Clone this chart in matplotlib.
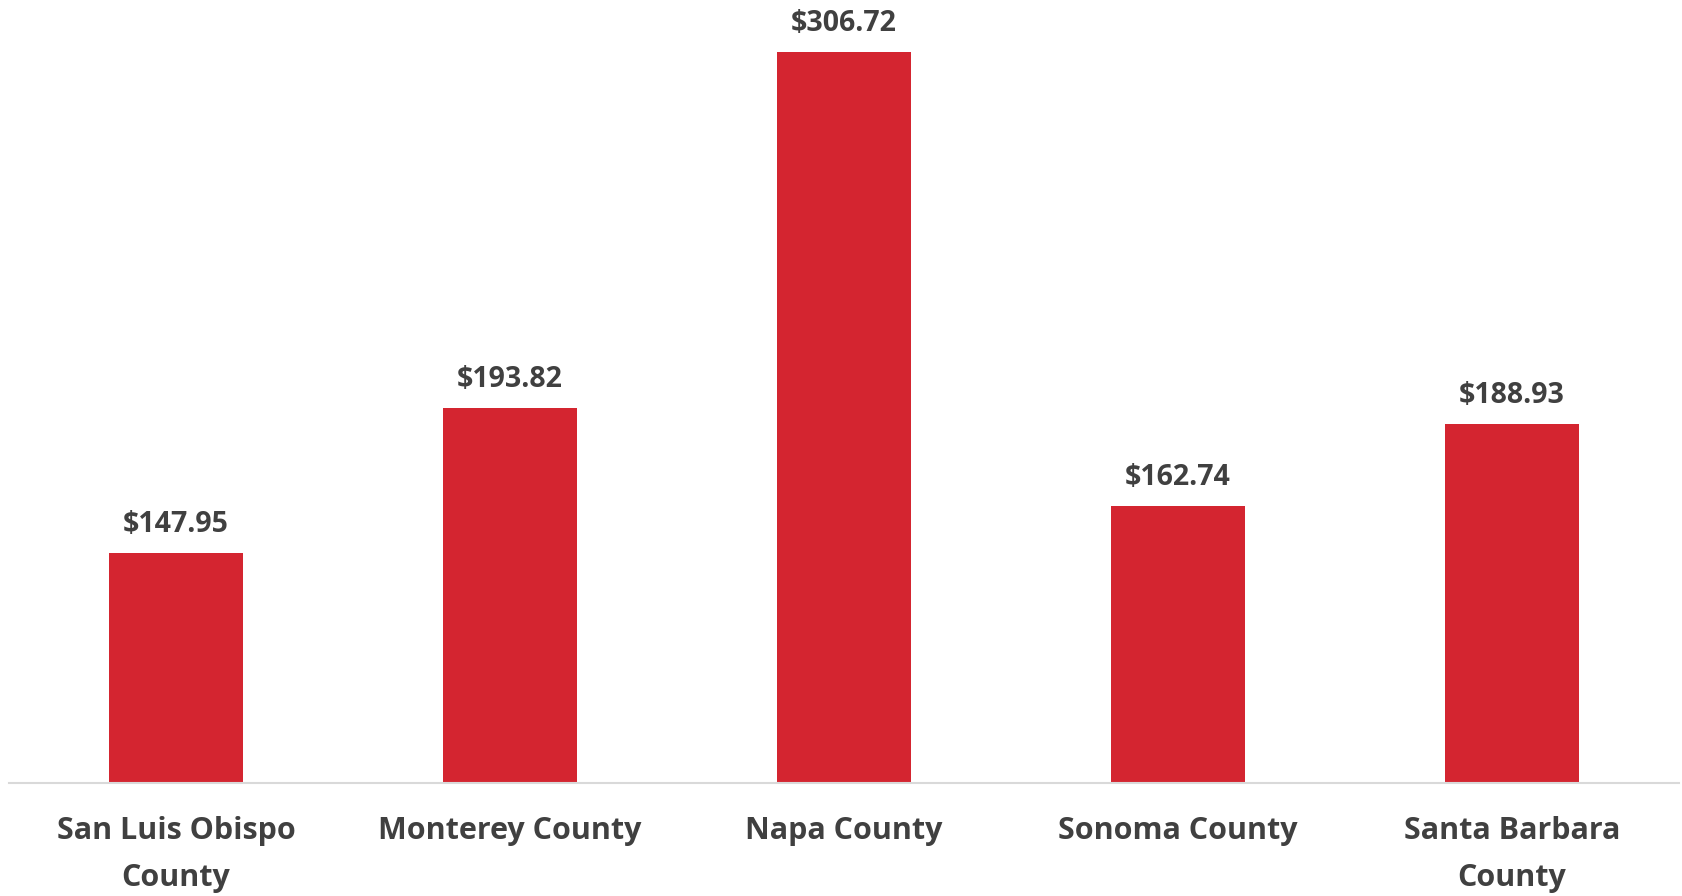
import matplotlib
matplotlib.use("Agg")
import matplotlib.pyplot as plt

# county room rate data
counties = ["San Luis Obispo\nCounty", "Monterey County", "Napa County",
            "Sonoma County", "Santa Barbara\nCounty"]
rates = [147.95, 193.82, 306.72, 162.74, 188.93]
rate_labels = ["$147.95", "$193.82", "$306.72", "$162.74", "$188.93"]

plt.rcParams['font.family'] = ['Open Sans', 'DejaVu Sans']

fig = plt.figure(figsize=(16.83, 8.96), dpi=100)
ax = fig.add_axes([0.0053, 0.126, 0.9923, 0.874])

x = range(len(counties))
bars = ax.bar(x, rates, width=0.4, color="#d42530", zorder=2)
ax.bar_label(bars, labels=rate_labels, padding=10, fontsize=20.5,
             fontweight="bold", color="#404040")

ax.set_xlim(-0.5, len(counties) - 0.5)
ax.set_ylim(75, 323.2)
ax.set_xticks(list(x))
ax.set_xticklabels(counties, fontsize=22, fontweight="bold", color="#404040",
                   linespacing=1.7)
ax.tick_params(axis="x", length=0, pad=24)
ax.set_yticks([])

for s in ["top", "right", "left"]:
    ax.spines[s].set_visible(False)
ax.spines["bottom"].set_color("#d9d9d9")
ax.spines["bottom"].set_linewidth(1.5)

fig.savefig("out.png", dpi=100)
